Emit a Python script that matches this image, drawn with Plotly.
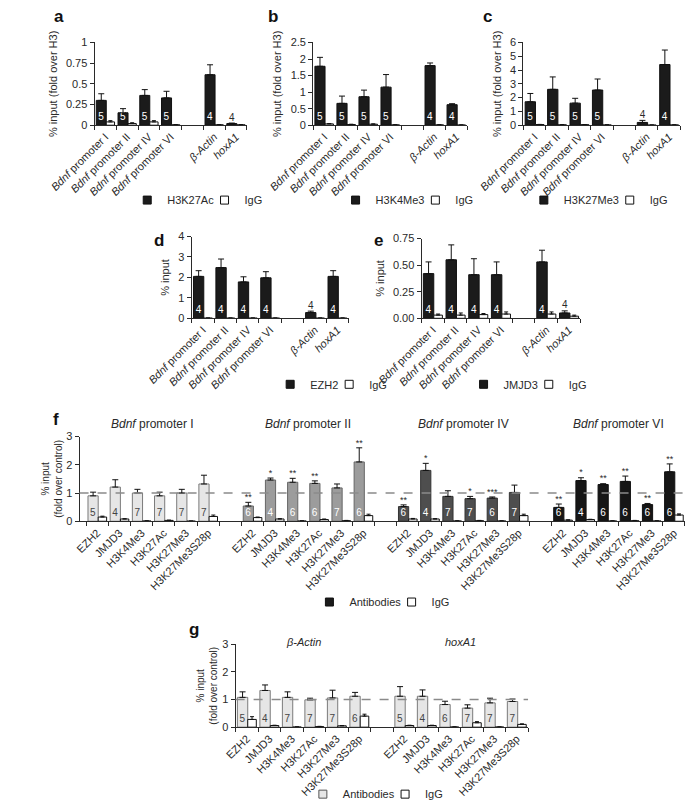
import plotly.graph_objects as go

W, H = 685, 810
FONT = "Liberation Sans, Arial, sans-serif"
INK = "#2a2a2a"

# ---------------- data ----------------
promoter_labels = ["<i>Bdnf</i> promoter I", "<i>Bdnf</i> promoter II", "<i>Bdnf</i> promoter IV",
                   "<i>Bdnf</i> promoter VI", "<i>β-Actin</i>", "<i>hoxA1</i>"]
antibody_labels = ["EZH2", "JMJD3", "H3K4Me3", "H3K27Ac", "H3K27Me3", "H3K27Me3S28p"]

# panel a  (H3K27Ac)
a_ab = [0.30, 0.15, 0.36, 0.33, 0.61, 0.02]
a_ab_err = [0.08, 0.05, 0.07, 0.08, 0.12, 0.006]
a_igg = [0.04, 0.02, 0.04, 0.005, 0.005, 0.005]
a_igg_err = [0.015, 0.01, 0.015, 0.003, 0.002, 0.002]
a_n = [5, 5, 5, 5, 4, 4]
a_n_inside = [True, True, True, True, True, False]

# panel b  (H3K4Me3)
b_ab = [1.78, 0.66, 0.86, 1.15, 1.80, 0.62]
b_ab_err = [0.27, 0.22, 0.20, 0.38, 0.08, 0.03]
b_igg = [0.04, 0.02, 0.03, 0.01, 0.01, 0.005]
b_igg_err = [0.01, 0.01, 0.01, 0.005, 0.005, 0.002]
b_n = [5, 5, 5, 5, 4, 4]
b_n_inside = [True, True, True, True, True, True]

# panel c  (H3K27Me3)
c_ab = [1.70, 2.60, 1.60, 2.55, 0.20, 4.40]
c_ab_err = [0.60, 0.90, 0.35, 0.80, 0.15, 1.05]
c_igg = [0.05, 0.03, 0.04, 0.02, 0.01, 0.02]
c_igg_err = [0.01, 0.01, 0.01, 0.005, 0.005, 0.005]
c_n = [5, 5, 5, 5, 4, 4]
c_n_inside = [True, True, True, True, False, True]

# panel d  (EZH2)
d_ab = [2.05, 2.48, 1.78, 1.98, 0.28, 2.05]
d_ab_err = [0.28, 0.42, 0.25, 0.30, 0.07, 0.28]
d_igg = [0.01, 0.01, 0.01, 0.01, 0.01, 0.01]
d_igg_err = [0.005, 0.005, 0.005, 0.005, 0.005, 0.005]
d_n = [4, 4, 4, 4, 4, 4]
d_n_inside = [True, True, True, True, False, True]

# panel e  (JMJD3)
e_ab = [0.42, 0.55, 0.41, 0.41, 0.53, 0.05]
e_ab_err = [0.11, 0.14, 0.15, 0.12, 0.11, 0.02]
e_igg = [0.03, 0.03, 0.035, 0.04, 0.04, 0.02]
e_igg_err = [0.01, 0.02, 0.01, 0.02, 0.02, 0.01]
e_n = [4, 4, 4, 4, 4, 4]
e_n_inside = [True, True, True, True, True, False]

# panel f  (fold over control, four Bdnf promoters)
f_groups = ["<i>Bdnf</i> promoter I", "<i>Bdnf</i> promoter II",
            "<i>Bdnf</i> promoter IV", "<i>Bdnf</i> promoter VI"]
f_p1_ab = [0.90, 1.21, 1.00, 0.90, 1.00, 1.32]
f_p1_ab_err = [0.13, 0.26, 0.13, 0.13, 0.13, 0.31]
f_p1_igg = [0.15, 0.08, 0.01, 0.03, 0.005, 0.17]
f_p1_igg_err = [0.03, 0.01, 0.005, 0.01, 0.003, 0.05]
f_p1_n = [5, 4, 7, 7, 7, 7]
f_p1_sig = ["", "", "", "", "", ""]

f_p2_ab = [0.54, 1.46, 1.38, 1.34, 1.18, 2.10]
f_p2_ab_err = [0.13, 0.07, 0.14, 0.09, 0.14, 0.50]
f_p2_igg = [0.13, 0.08, 0.01, 0.06, 0.02, 0.20]
f_p2_igg_err = [0.02, 0.01, 0.005, 0.02, 0.01, 0.05]
f_p2_n = [6, 4, 6, 6, 7, 6]
f_p2_sig = ["**", "*", "**", "**", "", "**"]

f_p4_ab = [0.52, 1.80, 0.88, 0.80, 0.82, 1.02]
f_p4_ab_err = [0.06, 0.25, 0.20, 0.08, 0.04, 0.26]
f_p4_igg = [0.08, 0.08, 0.01, 0.02, 0.01, 0.20]
f_p4_igg_err = [0.02, 0.01, 0.005, 0.01, 0.005, 0.05]
f_p4_n = [6, 4, 7, 7, 6, 7]
f_p4_sig = ["**", "*", "", "*", "***", ""]

f_p6_ab = [0.49, 1.44, 1.30, 1.41, 0.59, 1.75]
f_p6_ab_err = [0.12, 0.10, 0.03, 0.19, 0.04, 0.28]
f_p6_igg = [0.04, 0.06, 0.01, 0.02, 0.01, 0.22]
f_p6_igg_err = [0.01, 0.01, 0.005, 0.01, 0.005, 0.04]
f_p6_n = [6, 4, 6, 6, 6, 6]
f_p6_sig = ["**", "*", "**", "**", "**", "**"]

# panel g  (fold over control, control genes)
g_groups = ["<i>β-Actin</i>", "<i>hoxA1</i>"]
g_act_ab = [1.08, 1.33, 1.08, 0.99, 1.06, 1.12]
g_act_ab_err = [0.20, 0.20, 0.20, 0.06, 0.28, 0.14]
g_act_igg = [0.28, 0.06, 0.005, 0.02, 0.05, 0.40]
g_act_igg_err = [0.10, 0.01, 0.003, 0.01, 0.01, 0.07]
g_act_n = [5, 4, 7, 7, 7, 6]

g_hox_ab = [1.12, 1.12, 0.82, 0.69, 0.88, 0.93]
g_hox_ab_err = [0.35, 0.23, 0.12, 0.12, 0.17, 0.09]
g_hox_igg = [0.06, 0.06, 0.005, 0.16, 0.005, 0.10]
g_hox_igg_err = [0.01, 0.01, 0.003, 0.04, 0.003, 0.02]
g_hox_n = [5, 4, 6, 7, 7, 7]

# ---------------- helpers ----------------
def px(p):
    return p / W

def py(p):
    return 1 - p / H

BLACK = "#1b1b1b"
LIGHT = "#e6e6e6"
AB_OFF, AB_W = -0.42, 0.46
IG_OFF, IG_W = 0.04, 0.38

# approximate widths of legend labels at 11px (used to pack legend entries tightly)
CHAR_W = {"H": 7.9, "3": 6.1, "K": 7.3, "2": 6.1, "7": 6.1, "A": 7.3, "c": 5.5, "4": 6.1,
          "M": 9.2, "e": 6.1, "E": 7.3, "Z": 6.7, "J": 5.5, "D": 7.9, "n": 6.1, "t": 3.1,
          "i": 2.4, "b": 6.1, "o": 6.1, "d": 6.1, "s": 5.5}


def text_w(s):
    return sum(CHAR_W.get(ch, 6.1) for ch in s)


fig = go.Figure()


def ax_names(k):
    return ("x", "y") if k == 1 else (f"x{k}", f"y{k}")


def add_pair(k, pos, ab, ab_err, igg, igg_err, n, n_inside, color, line, ncolor, sig=None):
    xa, ya = ax_names(k)
    fig.add_trace(go.Bar(
        x=pos, y=ab, offset=AB_OFF, width=AB_W, xaxis=xa, yaxis=ya,
        marker=dict(color=color, line=dict(color=line, width=1)),
        error_y=dict(type="data", array=ab_err, arrayminus=[0] * len(ab), symmetric=False,
                     color="#111", thickness=1, width=3),
        text=[str(v) if ins else "" for v, ins in zip(n, n_inside)],
        textposition="inside", insidetextanchor="start", textangle=0,
        textfont=dict(color=ncolor, size=10, family=FONT),
        showlegend=False, hoverinfo="skip", cliponaxis=False))
    fig.add_trace(go.Bar(
        x=pos, y=igg, offset=IG_OFF, width=IG_W, xaxis=xa, yaxis=ya,
        marker=dict(color="white", line=dict(color="#111", width=1)),
        error_y=dict(type="data", array=igg_err, arrayminus=[0] * len(igg), symmetric=False,
                     color="#111", thickness=1, width=2),
        showlegend=False, hoverinfo="skip", cliponaxis=False))
    # counts written above small bars
    ox, oy, ot = [], [], []
    for p, v, e, c, ins in zip(pos, ab, ab_err, n, n_inside):
        if not ins:
            ox.append(p + AB_OFF + AB_W / 2)
            oy.append(v + e)
            ot.append(str(c))
    if ox:
        fig.add_trace(go.Scatter(x=ox, y=oy, text=ot, mode="text", textposition="top center",
                                 textfont=dict(size=10, color=INK, family=FONT), xaxis=xa, yaxis=ya,
                                 showlegend=False, hoverinfo="skip", cliponaxis=False))
    if sig:
        sx = [p + AB_OFF + AB_W / 2 for p in pos]
        sy = [v + e for v, e in zip(ab, ab_err)]
        fig.add_trace(go.Scatter(x=sx, y=sy, text=sig, mode="text", textposition="top center",
                                 textfont=dict(size=9, color=INK, family=FONT), xaxis=xa, yaxis=ya,
                                 showlegend=False, hoverinfo="skip", cliponaxis=False))


def add_legend(k, legend_name, ab_name, ab_color, ab_line):
    xa, ya = ax_names(k)
    fig.add_trace(go.Scatter(x=[None], y=[None], mode="markers", name=ab_name, xaxis=xa, yaxis=ya,
                             marker=dict(symbol="square", size=8, color=ab_color,
                                         line=dict(color=ab_line, width=1)),
                             legend=legend_name, legendwidth=max(text_w(ab_name) - 14, 1)))
    fig.add_trace(go.Scatter(x=[None], y=[None], mode="markers", name="IgG", xaxis=xa, yaxis=ya,
                             marker=dict(symbol="square", size=8, color="white",
                                         line=dict(color="#111", width=1)),
                             legend=legend_name))


def grouped_positions(group_sizes, gap=1):
    pos, start = [], 0
    for s in group_sizes:
        pos.append([start + i for i in range(s)])
        start += s + gap
    return pos


axes = {}


def set_axes(k, xdom_px, ydom_px, pos, labels, xrange, yrange, yticks, yticktext, ytitle,
             title_size=11, standoff=6):
    xk = "xaxis" if k == 1 else f"xaxis{k}"
    yk = "yaxis" if k == 1 else f"yaxis{k}"
    xa, ya = ax_names(k)
    lo, hi = xrange
    bounds = [b + 0.5 for b in range(int(lo - 0.5), int(hi + 0.5)) if lo <= b + 0.5 <= hi]
    axes[xk] = dict(domain=[px(xdom_px[0]), px(xdom_px[1])], range=list(xrange), anchor=ya,
                    tickmode="array", tickvals=pos, ticktext=labels, tickangle=-45, ticks="",
                    showline=True, linecolor=INK, linewidth=1, showgrid=False, zeroline=False,
                    tickfont=dict(size=11, color=INK, family=FONT),
                    minor=dict(tickmode="array", tickvals=bounds, ticks="outside", ticklen=4,
                               tickcolor=INK, tickwidth=1, showgrid=False))
    axes[yk] = dict(domain=[py(ydom_px[1]), py(ydom_px[0])], range=list(yrange), anchor=xa,
                    tickmode="array", tickvals=yticks, ticktext=yticktext, ticks="outside",
                    ticklen=4, tickcolor=INK, showline=True, linecolor=INK, linewidth=1,
                    showgrid=False, zeroline=False,
                    tickfont=dict(size=11, color=INK, family=FONT),
                    title=dict(text=ytitle, font=dict(size=title_size, color=INK, family=FONT),
                               standoff=standoff))


# ---------------- panels a-e ----------------
pe = grouped_positions([4, 2])
pos_ae = pe[0] + pe[1]

panels = [
    (1, a_ab, a_ab_err, a_igg, a_igg_err, a_n, a_n_inside, "H3K27Ac",
     (53, 216), (37, 121), [0, 1], [0, 0.25, 0.5, 0.75, 1], ["0", "0.25", "0.5", "0.75", "1"],
     "% input (fold over H3)"),
    (2, b_ab, b_ab_err, b_igg, b_igg_err, b_n, b_n_inside, "H3K4Me3",
     (287, 452), (37, 121), [0, 2.5], [0, 0.5, 1, 1.5, 2, 2.5], ["0", "0.5", "1", "1.5", "2", "2.5"],
     "% input (fold over H3)"),
    (3, c_ab, c_ab_err, c_igg, c_igg_err, c_n, c_n_inside, "H3K27Me3",
     (512, 680), (37, 121), [0, 6], [0, 1, 2, 3, 4, 5, 6], ["0", "1", "2", "3", "4", "5", "6"],
     "% input (fold over H3)"),
    (4, d_ab, d_ab_err, d_igg, d_igg_err, d_n, d_n_inside, "EZH2",
     (157, 325), (234, 317), [0, 4], [0, 1, 2, 3, 4], ["0", "1", "2", "3", "4"],
     "% input"),
    (5, e_ab, e_ab_err, e_igg, e_igg_err, e_n, e_n_inside, "JMJD3",
     (403, 573), (236, 317), [0, 0.75], [0, 0.25, 0.5, 0.75], ["0.00", "0.25", "0.50", "0.75"],
     "% input"),
]

for (k, ab, abe, ig, ige, n, nin, name, xd, yd, yr, yt, ytt, ytitle) in panels:
    add_pair(k, pos_ae, ab, abe, ig, ige, n, nin, BLACK, "#111", "white")
    add_legend(k, "legend" if k == 1 else f"legend{k}", name, BLACK, "#111")
    set_axes(k, xd, yd, pos_ae, promoter_labels, (-0.5, 6.5), yr, yt, ytt, ytitle)

# ---------------- panel f ----------------
pf = grouped_positions([6, 6, 6, 6])
f_sets = [
    (f_p1_ab, f_p1_ab_err, f_p1_igg, f_p1_igg_err, f_p1_n, f_p1_sig, LIGHT, "#7a7a7a", "#444"),
    (f_p2_ab, f_p2_ab_err, f_p2_igg, f_p2_igg_err, f_p2_n, f_p2_sig, "#9c9c9c", "#666", "white"),
    (f_p4_ab, f_p4_ab_err, f_p4_igg, f_p4_igg_err, f_p4_n, f_p4_sig, "#4e4e4e", "#333", "white"),
    (f_p6_ab, f_p6_ab_err, f_p6_igg, f_p6_igg_err, f_p6_n, f_p6_sig, "#161616", "#111", "white"),
]
for gpos, (ab, abe, ig, ige, n, sig, col, lin, nc) in zip(pf, f_sets):
    add_pair(6, gpos, ab, abe, ig, ige, n, [True] * len(n), col, lin, nc, sig=sig)
add_legend(6, "legend6", "Antibodies", BLACK, "#111")
pos_f = [p for g in pf for p in g]
set_axes(6, (37, 685), (437, 523), pos_f, antibody_labels * 4, (-0.8, 26.5), [0, 3],
         [0, 1, 2, 3], ["0", "1", "2", "3"], "% input<br>(fold over control)",
         title_size=10, standoff=1)

# ---------------- panel g ----------------
pg = grouped_positions([6, 6])
add_pair(7, pg[0], g_act_ab, g_act_ab_err, g_act_igg, g_act_igg_err, g_act_n, [True] * 6,
         LIGHT, "#7a7a7a", "#444")
add_pair(7, pg[1], g_hox_ab, g_hox_ab_err, g_hox_igg, g_hox_igg_err, g_hox_n, [True] * 6,
         LIGHT, "#7a7a7a", "#444")
add_legend(7, "legend7", "Antibodies", LIGHT, "#555")
pos_g = pg[0] + pg[1]
set_axes(7, (204, 517), (648, 732), pos_g, antibody_labels * 2, (-0.5, 12.5), [0, 3],
         [0, 1, 2, 3], ["0", "1", "2", "3"], "% input<br>(fold over control)",
         title_size=10, standoff=2)

# ---------------- annotations / shapes ----------------
ann = []
for letter, (lx, ly) in zip("abcdefg", [(8, 11), (237, 11), (467, 11), (114, 238), (350, 238),
                                          (6, 420), (152, 633)]):
    ann.append(dict(text=f"<b>{letter}</b>", x=px(lx), y=py(ly), xref="paper", yref="paper",
                    xanchor="left", yanchor="middle", showarrow=False,
                    font=dict(size=17, color="#111", family=FONT)))
for gpos, title in zip(pf, f_groups):
    ann.append(dict(text=title, x=sum(gpos) / len(gpos), y=py(424), xref="x6", yref="paper",
                    showarrow=False, yanchor="middle",
                    font=dict(size=12, color=INK, family=FONT)))
for gpos, title in zip(pg, g_groups):
    ann.append(dict(text=title, x=sum(gpos) / len(gpos), y=py(646), xref="x7", yref="paper",
                    showarrow=False, yanchor="middle",
                    font=dict(size=11, color=INK, family=FONT)))

shapes = []
for k in (6, 7):
    shapes.append(dict(type="line", xref=f"x{k} domain", yref=f"y{k}", x0=0, x1=1, y0=1, y1=1,
                       line=dict(color="#8a8a8a", width=1.5, dash="dash"), layer="above"))

# (anchor x, anchor side, row y) of each legend
legend_pos = {"legend": (88, "left", 197), "legend2": (311, "left", 197),
              "legend3": (672, "right", 197),
              "legend4": (241, "left", 384), "legend5": (448, "left", 384),
              "legend6": (283, "left", 605), "legend7": (276, "left", 800)}
leg_layout = {}
for name, (lx, side, ly) in legend_pos.items():
    leg_layout[name] = dict(x=px(lx), y=py(ly), xanchor=side, yanchor="middle",
                            orientation="h", bgcolor="rgba(0,0,0,0)", itemwidth=30,
                            font=dict(size=11, color=INK, family=FONT), tracegroupgap=0)

fig.update_layout(
    width=W, height=H, margin=dict(l=0, r=0, t=0, b=0),
    paper_bgcolor="white", plot_bgcolor="white",
    barmode="overlay", showlegend=True,
    font=dict(family=FONT, color=INK, size=11),
    uniformtext=dict(minsize=9, mode="show"),
    annotations=ann, shapes=shapes,
    **axes, **leg_layout,
)

fig.write_html("out.html", config={"displayModeBar": False},
               post_script="document.body.style.margin='0';")
